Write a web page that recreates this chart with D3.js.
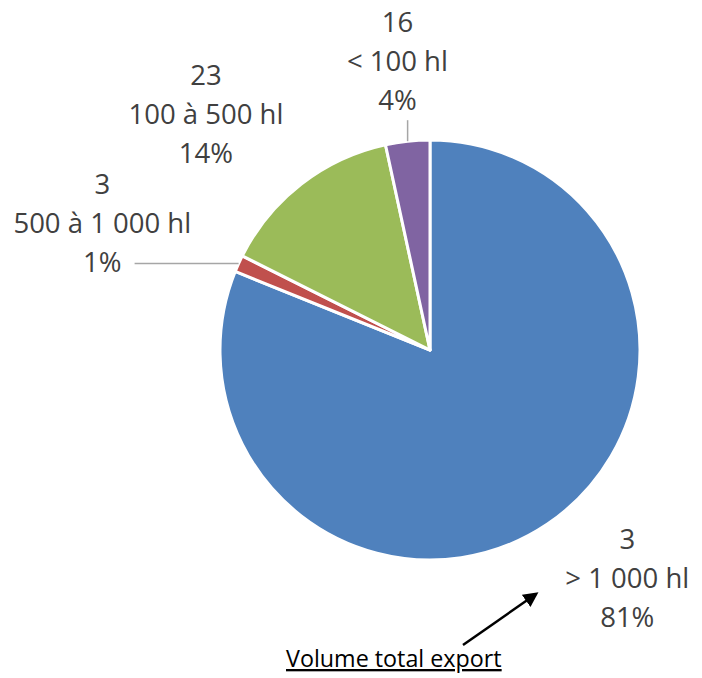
<!DOCTYPE html>
<html>
<head>
<meta charset="utf-8">
<script src="https://cdn.jsdelivr.net/npm/d3@7"></script>
<style>
  body { margin: 0; background: #fff; }
  svg { display: block; }
</style>
</head>
<body>
<svg id="chart" width="702" height="678"></svg>
<script>
// data
var categories = ["> 1 000 hl", "500 à 1 000 hl", "100 à 500 hl", "< 100 hl"];
var counts = [3, 3, 23, 16];
var shares = [81.1, 1.3, 14.2, 3.4];       // share of total export volume, %
var shareLabels = ["81%", "1%", "14%", "4%"];
var colors = ["#4F81BD", "#C0504D", "#9BBB59", "#8064A2"];

// label layout (offset of the middle line baseline from the point at R + 30 on the mid angle)
var labelOffset = [[63, 39], [-109, -18], [-77, -36], [-7, -40]];
// leader lines from the slice edge (dx, dy), null when none
var leaders = [null, [-104, 0], null, [0, -21]];

var WIDTH = 702, HEIGHT = 678;
var cx = 430, cy = 350, R = 210;
var lineH = 39;

var svg = d3.select("#chart");
var g = svg.append("g").attr("transform", "translate(" + cx + "," + cy + ")");

var pie = d3.pie().sort(null).value(function(d){ return d; });
var arcs = pie(shares);

var arc = d3.arc().innerRadius(0).outerRadius(R);

g.selectAll("path.slice")
    .data(arcs)
    .enter().append("path")
    .attr("class", "slice")
    .attr("d", arc)
    .style("fill", function(d, i){ return colors[i]; })
    .style("stroke", "#fff")
    .style("stroke-width", 3)
    .style("stroke-linejoin", "round");

function polar(a, r){ return [r * Math.sin(a), -r * Math.cos(a)]; }

// leader lines
arcs.forEach(function(d, i){
    if (!leaders[i]) return;
    var mid = (d.startAngle + d.endAngle) / 2;
    var p = polar(mid, R);
    g.append("line")
        .attr("x1", p[0]).attr("y1", p[1])
        .attr("x2", p[0] + leaders[i][0]).attr("y2", p[1] + leaders[i][1])
        .style("stroke", "#A6A6A6")
        .style("stroke-width", 1.5);
});

// labels
arcs.forEach(function(d, i){
    var mid = (d.startAngle + d.endAngle) / 2;
    var p = polar(mid, R + 30);
    var x = p[0] + labelOffset[i][0], y = p[1] + labelOffset[i][1];
    var t = g.append("text")
        .attr("text-anchor", "middle")
        .style("fill", "#404040")
        .style("font-family", "'Open Sans', sans-serif")
        .style("font-size", "27.5px");
    [String(counts[i]), categories[i], shareLabels[i]].forEach(function(s, k){
        t.append("tspan").attr("x", x).attr("y", y + (k - 1) * lineH).text(s);
    });
});

// annotation
var defs = svg.append("defs");
defs.append("marker")
    .attr("id", "arrow")
    .attr("viewBox", "0 0 10 10")
    .attr("refX", 8).attr("refY", 5)
    .attr("markerWidth", 6).attr("markerHeight", 6)
    .attr("orient", "auto")
    .append("path")
    .attr("d", "M0,0 L10,5 L0,10 Z")
    .style("fill", "#000");

svg.append("line")
    .attr("x1", 463).attr("y1", 645)
    .attr("x2", 536).attr("y2", 594)
    .style("stroke", "#000")
    .style("stroke-width", 2.5)
    .attr("marker-end", "url(#arrow)");

svg.append("text")
    .attr("x", 286).attr("y", 667)
    .text("Volume total export")
    .style("fill", "#000")
    .style("font-family", "'Open Sans', sans-serif")
    .style("font-size", "23.3px")
    .style("text-decoration", "underline");
</script>
</body>
</html>
